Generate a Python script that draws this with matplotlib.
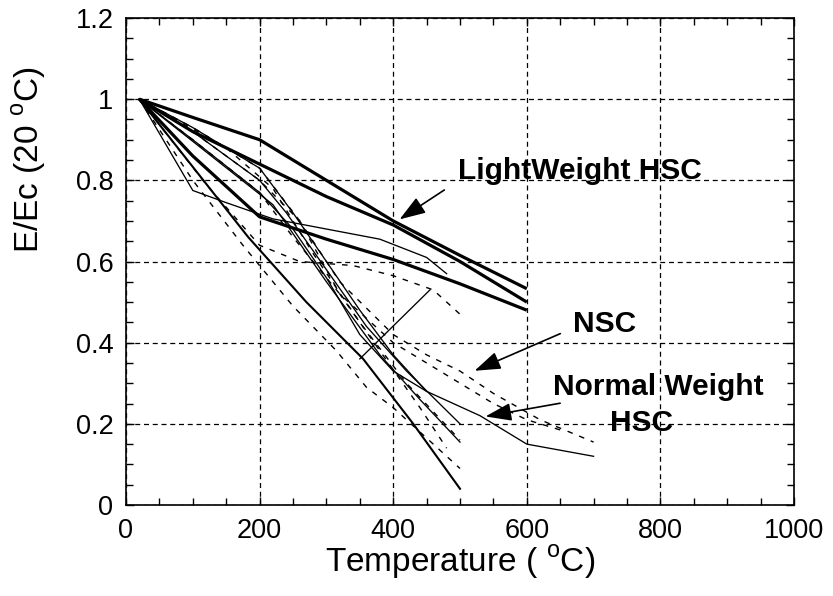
import matplotlib
matplotlib.use("Agg")
import matplotlib.pyplot as plt
from matplotlib.ticker import MultipleLocator

plt.rcParams['font.family'] = ['Liberation Sans', 'DejaVu Sans']
plt.rcParams['mathtext.fontset'] = 'custom'
plt.rcParams['mathtext.rm'] = 'Liberation Sans'

# ---- data ----
# Light-weight HSC (thick lines)
lw1_t = [20, 100, 200, 300, 400, 500, 600]
lw1_y = [1.0, 0.955, 0.9, 0.8, 0.70, 0.615, 0.533]
lw2_t = [20, 100, 200, 300, 400, 500, 600]
lw2_y = [1.0, 0.92, 0.84, 0.76, 0.69, 0.60, 0.50]
lw3_t = [20, 100, 200, 300, 400, 500, 600]
lw3_y = [1.0, 0.86, 0.71, 0.655, 0.605, 0.545, 0.48]

# thin solid lines
s1_t = [20, 100, 150, 220, 300, 380, 450, 480]
s1_y = [1.0, 0.775, 0.745, 0.705, 0.68, 0.655, 0.61, 0.57]
s2_t = [20, 100, 200, 250, 300, 350, 400, 450, 530, 600, 700]
s2_y = [1.0, 0.9, 0.77, 0.68, 0.56, 0.42, 0.33, 0.28, 0.22, 0.15, 0.12]
s3_t = [20, 183, 270, 355, 430, 500]
s3_y = [1.0, 0.66, 0.50, 0.36, 0.20, 0.04]
s4_t = [20, 120, 220, 300, 380, 440, 500]
s4_y = [1.0, 0.87, 0.74, 0.55, 0.37, 0.26, 0.155]
s6_t = [20, 100, 200, 250, 300, 350, 400, 450]
s6_y = [1.0, 0.93, 0.83, 0.72, 0.60, 0.48, 0.37, 0.28]
s7_t = [20, 100, 200, 240, 300, 360, 420, 500]
s7_y = [1.0, 0.92, 0.80, 0.72, 0.58, 0.44, 0.33, 0.20]
lead_t = [350, 455]
lead_y = [0.36, 0.53]

# dashed lines
d1_t = [20, 120, 200, 260, 340, 400, 460, 500]
d1_y = [1.0, 0.79, 0.64, 0.60, 0.59, 0.565, 0.53, 0.47]
d2_t = [20, 100, 200, 260, 320, 400, 450, 500, 550, 620, 700]
d2_y = [1.0, 0.92, 0.80, 0.70, 0.55, 0.42, 0.37, 0.33, 0.275, 0.21, 0.155]
d3_t = [20, 100, 200, 250, 320, 400, 450, 500, 550, 600, 650]
d3_y = [1.0, 0.90, 0.77, 0.66, 0.52, 0.40, 0.35, 0.30, 0.25, 0.21, 0.185]
d4_t = [20, 100, 175, 250, 315, 360, 400, 460, 500]
d4_y = [1.0, 0.80, 0.64, 0.49, 0.38, 0.29, 0.24, 0.15, 0.09]
d5_t = [20, 100, 200, 260, 320, 380, 440, 480]
d5_y = [1.0, 0.93, 0.83, 0.70, 0.52, 0.38, 0.24, 0.14]
d6_t = [20, 150, 220, 280, 350, 420, 500]
d6_y = [1.0, 0.88, 0.78, 0.62, 0.45, 0.30, 0.16]

x_ticks = [0, 200, 400, 600, 800, 1000]
y_ticks = [0, 0.2, 0.4, 0.6, 0.8, 1.0, 1.2]
y_ticklabels = ['0', '0.2', '0.4', '0.6', '0.8', '1', '1.2']

fig = plt.figure(figsize=(8.33, 5.96), dpi=100)
ax = fig.add_axes([126/833, 1-505/596, 668/833, 487/596])

for t, y in [(lw1_t, lw1_y), (lw2_t, lw2_y), (lw3_t, lw3_y)]:
    ax.plot(t, y, color='black', lw=2.3, solid_capstyle='butt')
for t, y in [(s1_t, s1_y), (s2_t, s2_y), (s4_t, s4_y), (s6_t, s6_y), (s7_t, s7_y), (lead_t, lead_y)]:
    ax.plot(t, y, color='black', lw=0.95)
ax.plot(s3_t, s3_y, color='black', lw=1.5)
for t, y in [(d1_t, d1_y), (d2_t, d2_y), (d3_t, d3_y), (d4_t, d4_y), (d5_t, d5_y), (d6_t, d6_y)]:
    ax.plot(t, y, color='black', lw=1.0, linestyle=(0, (4, 5)))

ax.set_xlim(0, 1000)
ax.set_ylim(0, 1.2)
ax.set_xticks(x_ticks)
ax.set_xticklabels([str(v) for v in x_ticks])
ax.set_yticks(y_ticks)
ax.set_yticklabels(y_ticklabels)
ax.xaxis.set_minor_locator(MultipleLocator(50))
ax.yaxis.set_minor_locator(MultipleLocator(0.05))
ax.tick_params(which='both', direction='in', top=True, right=True, width=1.0, color='black')
ax.tick_params(which='major', length=6, labelsize=19.5, pad=9)
ax.tick_params(which='minor', length=5)
for sp in ax.spines.values():
    sp.set_linewidth(1.2)
ax.grid(True, which='major', color='black', lw=0.9, linestyle=(0, (4, 3)))

# annotations
bold = dict(fontsize=21.5, fontweight='bold', ha='center', va='center')
ax.text(679, 0.822, 'LightWeight HSC', **bold)
ax.text(717, 0.447, 'NSC', **bold)
ax.text(797, 0.291, 'Normal Weight', **bold)
ax.text(771, 0.202, 'HSC', **bold)
arr = dict(arrowstyle='-|>,head_length=1.6,head_width=0.55', color='black', lw=1.2)
ax.annotate('', xy=(406, 0.70), xytext=(480, 0.78), arrowprops=arr)
ax.annotate('', xy=(518, 0.328), xytext=(654, 0.425), arrowprops=arr)
ax.annotate('', xy=(534, 0.217), xytext=(654, 0.252), arrowprops=arr)

fig.text(460/833, 1-562/596, r'Temperature ( $^{\rm o}$C)', fontsize=24, ha='center', va='center')
fig.text(29/833, 1-160/596, r'E/Ec (20 $^{\rm o}$C)', fontsize=24, ha='center', va='center', rotation=90)

fig.savefig('out.png', dpi=100)
